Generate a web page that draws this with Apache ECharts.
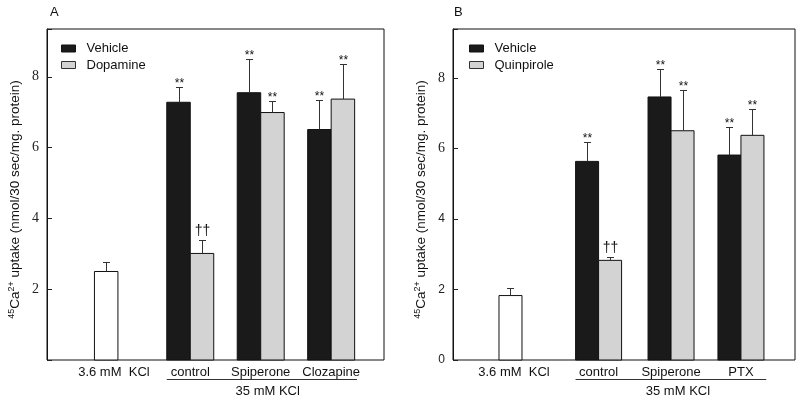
<!DOCTYPE html>
<html><head><meta charset="utf-8">
<script src="https://cdn.jsdelivr.net/npm/echarts@6/dist/echarts.min.js"></script>
<style>html,body{margin:0;padding:0;background:#fff}#c{width:800px;height:403px}</style>
</head><body><div id="c"></div><script>
// ---------- data ----------
const baseLabel = '3.6 mM  KCl';
const highKLabel = '35 mM KCl';
const groupsA = ['control', 'Spiperone', 'Clozapine'];
const groupsB = ['control', 'Spiperone', 'PTX'];
const seriesNamesA = ['Vehicle', 'Dopamine'];
const seriesNamesB = ['Vehicle', 'Quinpirole'];

const baseA = 2.50, baseSemA = 0.26;
const vehicleA = [7.28, 7.55, 6.51];
const vehicleSemA = [0.44, 0.94, 0.83];
const dopamineA = [3.01, 6.99, 7.37];
const dopamineSemA = [0.38, 0.33, 1.00];
const vehicleSigA = ['**', '**', '**'];
const dopamineSigA = ['††', '**', '**'];

const baseB = 1.83, baseSemB = 0.22;
const vehicleB = [5.64, 7.47, 5.82];
const vehicleSemB = [0.56, 0.78, 0.81];
const quinpiroleB = [2.83, 6.51, 6.38];
const quinpiroleSemB = [0.09, 1.15, 0.74];
const vehicleSigB = ['**', '**', '**'];
const quinpiroleSigB = ['††', '**', '**'];

const yTicksA = [2, 4, 6, 8];
const yTicksB = [0, 2, 4, 6, 8];
const panelTitles = ['A', 'B'];

// ---------- layout / style ----------
const SANS = 'Liberation Sans, Arial, sans-serif';
const SERIF = 'Liberation Serif, Times New Roman, serif';
const BLACK = '#1a1a1a', GREY = '#d3d3d3', WHITE = '#ffffff';

const panels = [
  { grid: {left: 47, top: 29, width: 337, height: 331}, xMax: 14.35, yMax: 9.35,
    basePos: 2.52, baseShift: 0.33, groupPos: [6.1, 9.1, 12.1],
    groups: groupsA, names: seriesNamesA, base: baseA, baseSem: baseSemA,
    veh: vehicleA, vehSem: vehicleSemA, vehSig: vehicleSigA,
    trt: dopamineA, trtSem: dopamineSemA, trtSig: dopamineSigA, yTicks: yTicksA,
    legendLeft: 61, titleLeft: 50 },
  { grid: {left: 453, top: 29, width: 342, height: 331}, xMax: 14.87, yMax: 9.4,
    basePos: 2.5, baseShift: 0.15, groupPos: [6.33, 9.48, 12.52],
    groups: groupsB, names: seriesNamesB, base: baseB, baseSem: baseSemB,
    veh: vehicleB, vehSem: vehicleSemB, vehSig: vehicleSigB,
    trt: quinpiroleB, trtSem: quinpiroleSemB, trtSig: quinpiroleSigB, yTicks: yTicksB,
    legendLeft: 469, titleLeft: 454 }
];

function barRenderer(sigs, fill, side) {
  return function (params, api) {
    const xc = api.value(0) + side * 0.5;
    const v = api.value(1), e = api.value(2);
    const tl = api.coord([xc - 0.5, v]);
    const br = api.coord([xc + 0.5, 0]);
    const top = api.coord([xc, v + e]);
    const cx = Math.round((tl[0] + br[0]) / 2) + 0.5;
    const ty = Math.round(top[1]) + 0.5;
    const children = [
      {type: 'rect', shape: {x: tl[0], y: tl[1], width: br[0] - tl[0], height: br[1] - tl[1]},
       style: {fill: fill, stroke: '#111', lineWidth: 1}},
      {type: 'line', shape: {x1: cx, y1: tl[1], x2: cx, y2: ty}, style: {stroke: '#333', lineWidth: 1}},
      {type: 'line', shape: {x1: cx - 3.5, y1: ty, x2: cx + 3.5, y2: ty}, style: {stroke: '#333', lineWidth: 1}}
    ];
    const sig = sigs ? sigs[params.dataIndex] : null;
    if (sig) {
      const isDagger = sig !== '**';
      children.push({type: 'text', x: cx, y: ty - (isDagger ? 9 : 4),
        style: {text: sig, fill: '#111', font: (isDagger ? '14px ' : '12px ') + SANS,
                align: 'center', verticalAlign: 'middle'}});
    }
    return {type: 'group', children: children};
  };
}

const option = {
  animation: false,
  backgroundColor: '#fff',
  textStyle: {fontFamily: SANS},
  title: [], grid: [], xAxis: [], yAxis: [], legend: [], series: []
};

panels.forEach((p, k) => {
  option.title.push({text: panelTitles[k], left: p.titleLeft, top: 6, padding: 0,
    textStyle: {fontFamily: SANS, fontSize: 13, fontWeight: 'normal', color: '#111'}});
  option.grid.push(Object.assign({show: true, borderColor: '#111', borderWidth: 1, backgroundColor: 'transparent'}, p.grid));
  option.xAxis.push({gridIndex: k, type: 'value', min: 0, max: p.xMax, show: false});
  option.yAxis.push({gridIndex: k, type: 'value', min: 0, max: p.yMax, interval: 2,
    axisLine: {show: true, lineStyle: {color: '#111', width: 1}},
    axisTick: {show: true, inside: true, length: 5, lineStyle: {color: '#222', width: 1}},
    axisLabel: {customValues: p.yTicks, margin: 8, color: '#222',
      formatter: k === 0 ? (v => '{s|' + v + '}') : (v => v >= 6 ? '{s|' + v + '}' : '{a|' + v + '}'),
      rich: {s: {fontFamily: SERIF, fontSize: 14, color: '#222'}, a: {fontFamily: SANS, fontSize: 12, color: '#222'}}},
    splitLine: {show: false},
    name: '{sup|45}{n|Ca}{sup|2+}{n| uptake (nmol/30 sec/mg. protein)}',
    nameLocation: 'middle', nameGap: 24,
    nameTextStyle: {padding: [0, 10, 0, 0], rich: {
      n: {fontFamily: SANS, fontSize: 13.5, color: '#111', lineHeight: 16},
      sup: {fontFamily: SANS, fontSize: 9, color: '#111', verticalAlign: 'top', lineHeight: 16}
    }}
  });
  option.legend.push({left: p.legendLeft, top: 42, orient: 'vertical', icon: 'rect',
    itemWidth: 14, itemHeight: 7, itemGap: 3.5, selectedMode: false, padding: 0,
    data: [
      {name: p.names[0], itemStyle: {color: BLACK, borderColor: '#111', borderWidth: 1}},
      {name: p.names[1], itemStyle: {color: GREY, borderColor: '#333', borderWidth: 1}}
    ],
    textStyle: {fontFamily: SANS, fontSize: 13, color: '#111', padding: [0, 0, 0, 6]}});

  option.series.push({type: 'custom', name: 'base' + k, xAxisIndex: k, yAxisIndex: k, silent: true,
    encode: {x: 0, y: 1}, renderItem: barRenderer(null, WHITE, 0),
    data: [[p.basePos, p.base, p.baseSem]]});
  option.series.push({type: 'custom', name: p.names[0], xAxisIndex: k, yAxisIndex: k, silent: true,
    encode: {x: 0, y: 1}, itemStyle: {color: BLACK}, renderItem: barRenderer(p.vehSig, BLACK, -1),
    data: p.groupPos.map((x, i) => [x, p.veh[i], p.vehSem[i]])});
  option.series.push({type: 'custom', name: p.names[1], xAxisIndex: k, yAxisIndex: k, silent: true,
    encode: {x: 0, y: 1}, itemStyle: {color: GREY}, renderItem: barRenderer(p.trtSig, GREY, 1),
    data: p.groupPos.map((x, i) => [x, p.trt[i], p.trtSem[i]])});
  const labels = [baseLabel].concat(p.groups);
  option.series.push({type: 'custom', name: 'labels' + k, xAxisIndex: k, yAxisIndex: k, silent: true,
    encode: {x: 0, y: 1},
    renderItem: function (params, api) {
      const pt = api.coord([api.value(0), 0]);
      return {type: 'text', x: pt[0], y: pt[1] + 12,
        style: {text: labels[params.dataIndex], fill: '#111', font: '13px ' + SANS, align: 'center', verticalAlign: 'middle'}};
    },
    data: [[p.basePos + p.baseShift, 0]].concat(p.groupPos.map(x => [x, 0]))});
  const gp = p.groupPos;
  option.series.push({type: 'custom', name: 'bracket' + k, xAxisIndex: k, yAxisIndex: k, silent: true,
    encode: {x: 0, y: 1},
    renderItem: function (params, api) {
      const a = api.coord([api.value(0), 0]);
      const b = api.coord([api.value(1), 0]);
      const c = api.coord([api.value(2), 0]);
      return {type: 'group', children: [
        {type: 'line', shape: {x1: a[0], y1: a[1] + 19.5, x2: b[0], y2: a[1] + 19.5}, style: {stroke: '#333', lineWidth: 1}},
        {type: 'text', x: c[0], y: a[1] + 31,
         style: {text: highKLabel, fill: '#111', font: '13px ' + SANS, align: 'center', verticalAlign: 'middle'}}
      ]};
    },
    data: [[gp[0] - 1, gp[gp.length - 1] + 1.1, gp[1] + 0.3]]});
});

const chart = echarts.init(document.getElementById('c'), null, {renderer: 'canvas'});
chart.setOption(option);
</script></body></html>
